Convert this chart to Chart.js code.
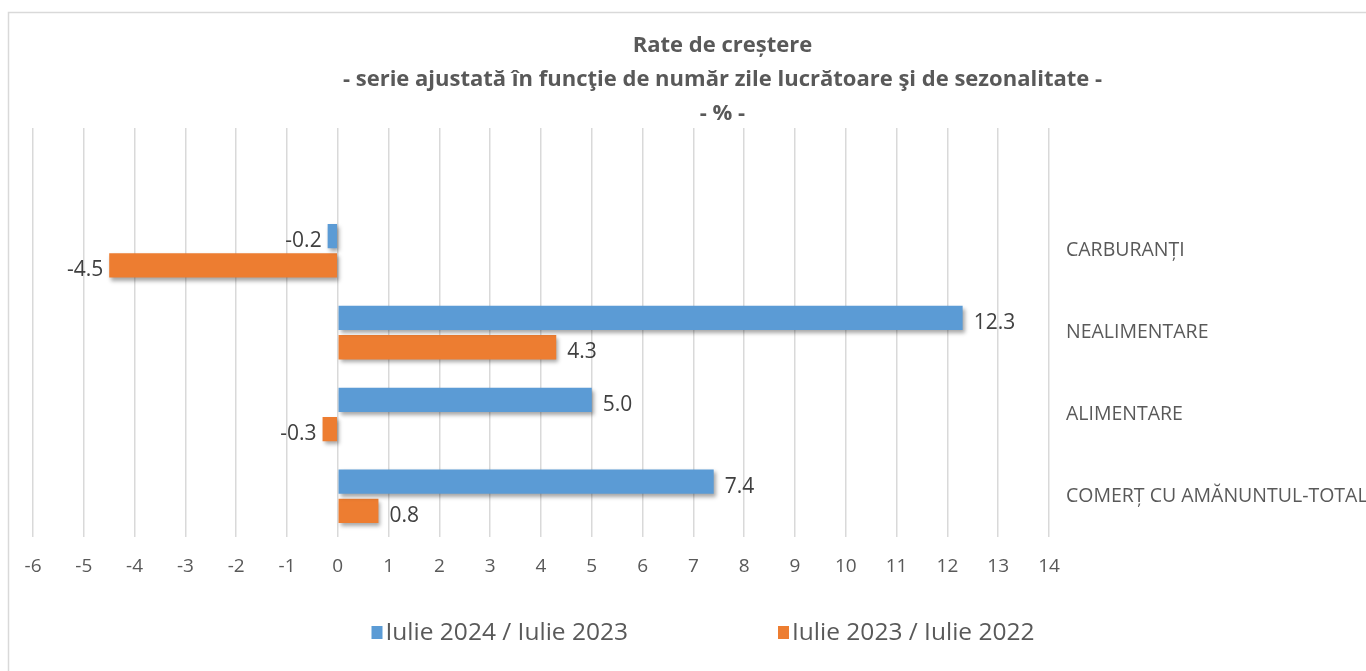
<!DOCTYPE html>
<html>
<head>
<meta charset="utf-8">
<script src="https://cdn.jsdelivr.net/npm/chart.js@4/dist/chart.umd.min.js"></script>
<style>
    html, body { margin: 0; padding: 0; overflow: hidden; background: #fff; }
    #wrap { width: 1412px; height: 671px; }
</style>
</head>
<body>
<div id="wrap"><canvas id="chartRate" width="1412" height="671"></canvas></div>
<script>
// date
var categorii = ['', 'CARBURANȚI', 'NEALIMENTARE', 'ALIMENTARE', 'COMERȚ CU AMĂNUNTUL-TOTAL'];
var iulie2024 = [null, -0.2, 12.3, 5.0, 7.4];
var iulie2023 = [null, -4.5, 4.3, -0.3, 0.8];
var etichete = ['Iulie 2024 / Iulie 2023', 'Iulie 2023 / Iulie 2022'];
var titlu = ['Rate de creștere', '- serie ajustată în funcţie de număr zile lucrătoare şi de sezonalitate -', '- % -'];

var font = '"Open Sans", Lato, sans-serif';
var gri = '#595959';

// ramă + umbră pentru bare + valori + legendă
var ramaPlugin = {
    id: 'rama',
    beforeDraw: function (chart) {
        var ctx = chart.ctx;
        ctx.save();
        ctx.strokeStyle = '#d9d9d9';
        ctx.lineWidth = 1.5;
        ctx.strokeRect(8.5, 12.5, 1600, 800);
        ctx.restore();
    },
    beforeDatasetsDraw: function (chart) {
        var ctx = chart.ctx;
        ctx.save();
        ctx.shadowColor = 'rgba(0, 0, 0, 0.35)';
        ctx.shadowBlur = 4;
        ctx.shadowOffsetX = 2;
        ctx.shadowOffsetY = 3;
    },
    afterDatasetsDraw: function (chart) {
        var ctx = chart.ctx;
        ctx.restore();
        ctx.save();
        ctx.font = '21px ' + font;
        ctx.fillStyle = '#404040';
        ctx.textBaseline = 'middle';
        chart.data.datasets.forEach(function (ds, i) {
            chart.getDatasetMeta(i).data.forEach(function (bar, j) {
                var v = ds.data[j];
                if (v === null) return;
                if (v >= 0) {
                    ctx.textAlign = 'left';
                    ctx.fillText(v.toFixed(1), bar.x + 11, bar.y + 5);
                } else {
                    ctx.textAlign = 'right';
                    ctx.fillText(v.toFixed(1), bar.x - 6, bar.y + 5);
                }
            });
        });
        ctx.restore();
    },
    afterDraw: function (chart) {
        var ctx = chart.ctx;
        ctx.save();
        ctx.font = '24.5px ' + font;
        ctx.textBaseline = 'middle';
        ctx.textAlign = 'left';
        var y = 633;
        var gap = 150;
        var latimi = chart.data.datasets.map(function (ds) {
            return 11 + 3 + ctx.measureText(ds.label).width;
        });
        var total = latimi[0] + gap + latimi[1];
        var x = chart.width / 2 - 3 - total / 2;
        chart.data.datasets.forEach(function (ds, i) {
            ctx.fillStyle = ds.backgroundColor;
            ctx.fillRect(x, y - 7, 11, 13);
            ctx.fillStyle = gri;
            ctx.fillText(ds.label, x + 14, y);
            x += latimi[i] + gap;
        });
        ctx.restore();
    }
};

var chartRate = new Chart(document.getElementById('chartRate'), {
    type: 'bar',
    data: {
        labels: categorii,
        datasets: [
            {
                label: etichete[0],
                data: iulie2024,
                backgroundColor: '#5b9bd5',
                categoryPercentage: 0.716,
                barPercentage: 0.83
            },
            {
                label: etichete[1],
                data: iulie2023,
                backgroundColor: '#ed7d31',
                categoryPercentage: 0.716,
                barPercentage: 0.83
            }
        ]
    },
    options: {
        indexAxis: 'y',
        responsive: false,
        animation: false,
        layout: {
            padding: { top: 12, left: 33, right: 0, bottom: 75 }
        },
        plugins: {
            legend: { display: false },
            tooltip: { enabled: false },
            title: {
                display: true,
                text: titlu,
                color: gri,
                font: { family: font, size: 22, weight: 'bold', lineHeight: '34px' },
                padding: { top: 17, bottom: -3 }
            }
        },
        scales: {
            x: {
                min: -6,
                max: 14,
                ticks: {
                    stepSize: 1,
                    color: gri,
                    padding: 18,
                    font: { family: font, size: 19 }
                },
                grid: {
                    color: '#d9d9d9',
                    lineWidth: 1.5,
                    drawTicks: false
                },
                border: { display: false }
            },
            y: {
                position: 'right',
                ticks: {
                    color: gri,
                    padding: 17,
                    font: { family: font, size: 19.5 }
                },
                grid: { display: false, drawTicks: false },
                border: { display: false },
                afterFit: function (scale) {
                    scale.width = 363;
                }
            }
        }
    },
    plugins: [ramaPlugin]
});
</script>
</body>
</html>
